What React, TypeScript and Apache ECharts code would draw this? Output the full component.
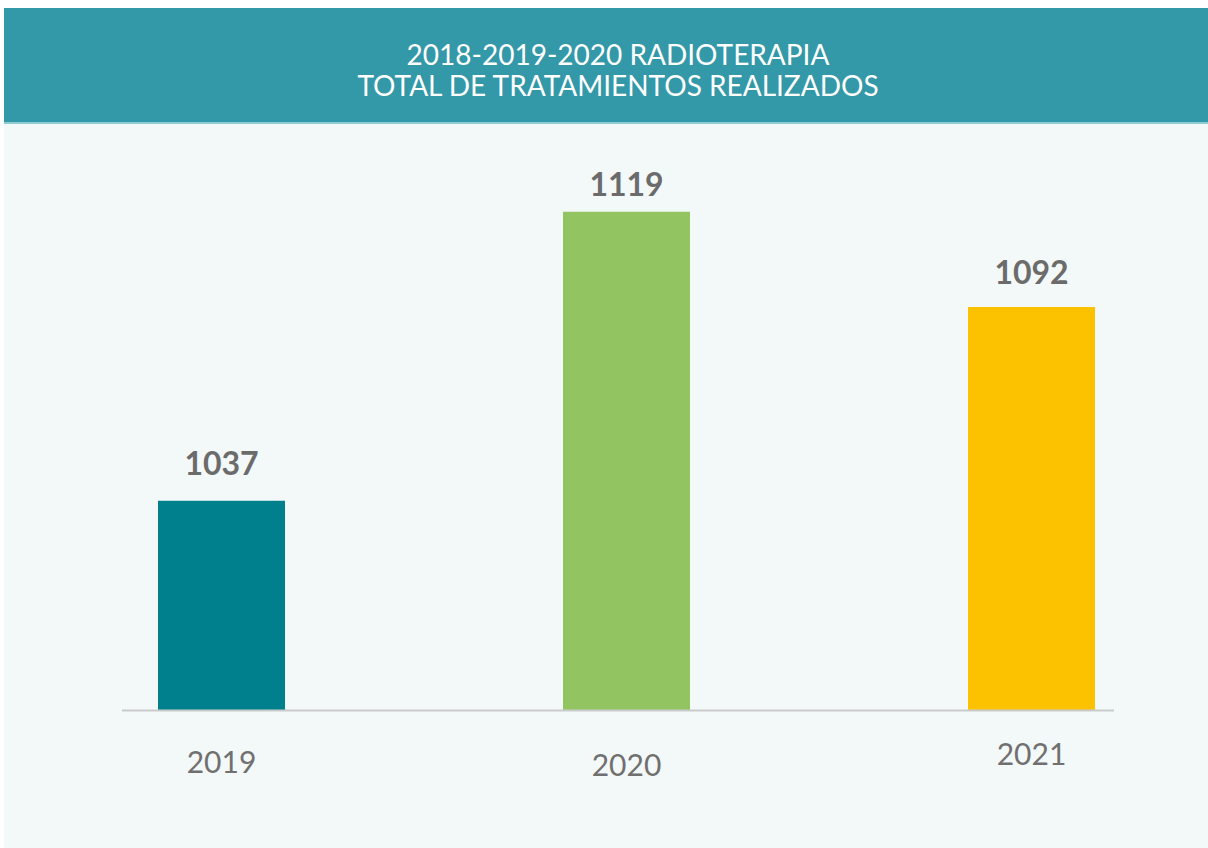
import React, { useEffect, useRef } from "react";
import * as echarts from "echarts";

const categories = ["2019", "2020", "2021"];
const values = [1037, 1119, 1092];
const barColors = ["#007f8c", "#93c462", "#fcc200"];
const titleLines = ["2018-2019-2020 RADIOTERAPIA", "TOTAL DE TRATAMIENTOS REALIZADOS"];

export default function App() {
  const ref = useRef<HTMLDivElement>(null);
  useEffect(() => {
    document.body.style.margin = "0";
    const chart = echarts.init(ref.current!, undefined, { renderer: "svg" });
    const labelPads = [8, 11, 0];
    const labelDist = [22, 12, 19];
    chart.setOption({
      animation: false,
      backgroundColor: "#ffffff",
      graphic: [
        { type: "rect", shape: { x: 4, y: 122, width: 1204, height: 726 }, style: { fill: "#f3f8f8" }, z: -10 },
        { type: "rect", shape: { x: 4, y: 8, width: 1204, height: 114 }, style: { fill: "#3398a7" }, z: -9 },
        { type: "rect", shape: { x: 4, y: 122, width: 1204, height: 2 }, style: { fill: "#8ecbd3" }, z: -9 },
        {
          type: "text",
          x: 618,
          y: 69.5,
          style: {
            text: titleLines.join("\n"),
            fill: "#ffffff",
            font: "28px Lato",
            lineHeight: 31,
            align: "center",
            verticalAlign: "middle",
          },
        },
        {
          type: "line",
          shape: { x1: 122, y1: 710.5, x2: 1114, y2: 710.5 },
          style: { stroke: "#c9cbcb", lineWidth: 2 },
          z: 10,
        },
      ],
      grid: { left: 19, width: 1215, top: 136, bottom: 137.5, outerBoundsMode: "none", containLabel: false },
      xAxis: {
        type: "category",
        data: categories.map((c, i) => ({ value: c, textStyle: { padding: [labelPads[i], 0, 0, 0] } })),
        axisLine: { show: false },
        axisTick: { show: false },
        axisLabel: { margin: 27, color: "#707070", fontFamily: "Lato", fontSize: 30 },
      },
      yAxis: {
        type: "value",
        min: 977.5,
        max: 1140.5,
        show: false,
        splitLine: { show: false },
      },
      series: [
        {
          type: "bar",
          barWidth: 127,
          data: values.map((v, i) => ({
            value: v,
            itemStyle: { color: barColors[i] },
            label: { distance: labelDist[i] },
          })),
          label: {
            show: true,
            position: "top",
            color: "#6b6b6b",
            fontFamily: "Lato",
            fontWeight: "bold",
            fontSize: 32,
          },
        },
      ],
    });
    return () => chart.dispose();
  }, []);
  return <div ref={ref} style={{ width: 1208, height: 848 }} />;
}
